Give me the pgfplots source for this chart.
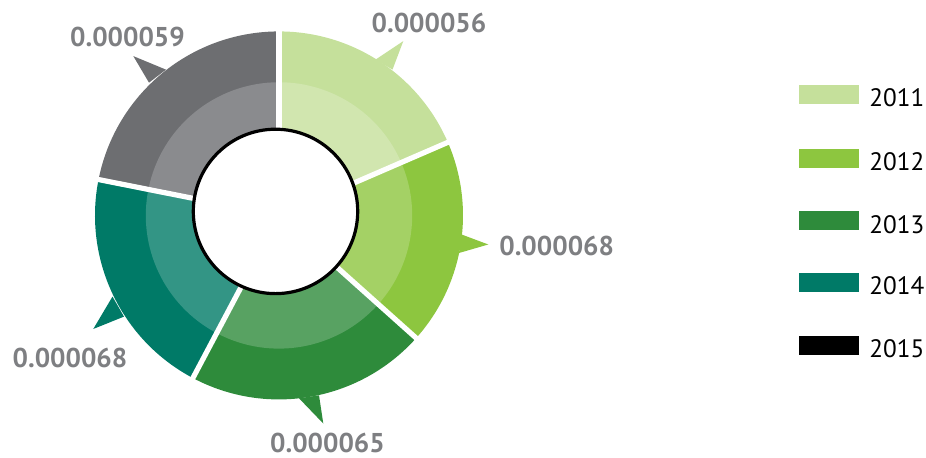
\documentclass[border=0pt]{standalone}
\usepackage{pgfplots}
\pgfplotsset{compat=1.18}
\usepackage{fontspec}
\setmainfont{PT Sans}

\definecolor{c1}{HTML}{C5E09B}
\definecolor{c2}{HTML}{8DC63F}
\definecolor{c3}{HTML}{2E8B3B}
\definecolor{c4}{HTML}{007A67}
\definecolor{c5}{HTML}{6D6E71}
\definecolor{lbl}{HTML}{7E7F82}

% one donut segment: colour, start angle, end angle (clockwise)
\newcommand\seg[3]{%
  \fill[#1] (#2:92pt) arc[start angle=#2, end angle=#3, radius=92pt]
     -- (#3:30pt) arc[start angle=#3, end angle=#2, radius=30pt] -- cycle;
  \fill[#1!80!white] (#2:66.6pt) arc[start angle=#2, end angle=#3, radius=66.6pt]
     -- (#3:30pt) arc[start angle=#3, end angle=#2, radius=30pt] -- cycle;
}
\newcommand\gap[1]{\draw[white, line width=2.6pt] (#1:25pt) -- (#1:97pt);}
\newcommand\lab[3]{\node[inner sep=0pt, text=lbl, font=\fontsize{13.6}{16}\selectfont\bfseries] at (axis cs:#1,#2) {#3};}
\newcommand\leg[3]{%
  \addplot[fill=#2, draw=none, mark=none] coordinates {(799,#1) (859,#1) (859,#1+19) (799,#1+19)};
  \node[inner sep=0pt, anchor=base west, font=\fontsize{12.6}{15}\selectfont] at (axis cs:869,#1+21.7) {#3};
}

\begin{document}
\begin{tikzpicture}
\begin{axis}[
  scale only axis, width=463pt, height=228.5pt,
  xmin=0, xmax=926, ymin=0, ymax=457, y dir=reverse,
  hide axis, clip=false]
\path (axis cs:0,0) rectangle (axis cs:926,457);

% segments: 2011 0.000056, 2012 0.000068, 2013 0.000065, 2014 0.000068, 2015 0.000059
\begin{scope}[shift={(axis cs:279,215)}]
  \seg{c1}{90}{23.4}
  \seg{c2}{23.4}{-41.8}
  \seg{c3}{-41.8}{-117.9}
  \seg{c4}{242.1}{168.75}
  \seg{c5}{168.75}{90}
\end{scope}

% callout pointers
\addplot[fill=c1, draw=none, mark=none] coordinates {(375.5,59.5) (403.3,41) (392.5,69.5)};
\addplot[fill=c2, draw=none, mark=none] coordinates {(461.5,234) (488.3,244) (459,252.5)};
\addplot[fill=c3, draw=none, mark=none] coordinates {(299,397.5) (323.3,422.7) (319,394.5)};
\addplot[fill=c4, draw=none, mark=none] coordinates {(112.5,296) (93.3,328.3) (124,316)};
\addplot[fill=c5, draw=none, mark=none] coordinates {(166,69.5) (133.3,56) (149,82.5)};

\begin{scope}[shift={(axis cs:279,215)}]
  \gap{90}\gap{23.4}\gap{-41.8}\gap{-117.9}\gap{168.75}
\end{scope}

% centre hole
\begin{scope}[shift={(axis cs:275.5,211)}]
  \filldraw[fill=white, draw=black, line width=1.6pt] (0pt,0pt) circle[radius=41.1pt];
\end{scope}

% value labels
\lab{429}{22.5}{0.000056}
\lab{556.7}{245.5}{0.000068}
\lab{327.5}{442.3}{0.000065}
\lab{70}{357.5}{0.000068}
\lab{127.5}{36.7}{0.000059}

% legend
\leg{85}{c1}{2011}
\leg{148.7}{c2}{2012}
\leg{211}{c3}{2013}
\leg{272.7}{c4}{2014}
\leg{335}{black}{2015}
\end{axis}
\end{tikzpicture}
\end{document}
